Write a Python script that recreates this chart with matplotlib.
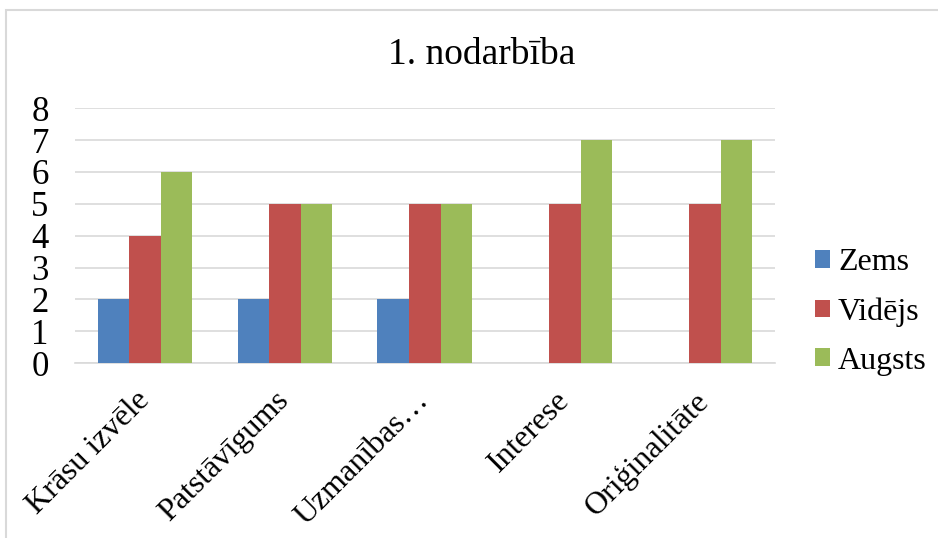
import numpy as np
import matplotlib.pyplot as plt
from matplotlib.patches import Rectangle

plt.rcParams['font.family'] = ['Liberation Serif', 'DejaVu Serif']

categories = ['Krāsu izvēle', 'Patstāvīgums', 'Uzmanības…', 'Interese', 'Oriģinalitāte']
series = ['Zems', 'Vidējs', 'Augsts']
zems = [2, 2, 2, 0, 0]
videjs = [4, 5, 5, 5, 5]
augsts = [6, 5, 5, 7, 7]
colors = ['#4F81BD', '#C0504D', '#9BBB59']

fig = plt.figure(figsize=(9.38, 5.38), dpi=100)
ax = fig.add_axes([0.08, 0.325, 0.746, 0.474])

x = np.arange(len(categories))
w = 0.226
for i, (vals, name) in enumerate(zip([zems, videjs, augsts], series)):
    ax.bar(x + (i - 1) * w, vals, w, color=colors[i], label=name, zorder=3)

ax.set_xlim(-0.5, len(categories) - 0.5)
ax.set_ylim(0, 8)
ax.set_yticks(range(0, 9))
ax.tick_params(axis='y', labelsize=25, length=0, pad=19)
ax.set_xticks(x)
ax.set_xticklabels(categories, rotation=45, ha='right', va='center',
                   rotation_mode='anchor', fontsize=23)
ax.tick_params(axis='x', length=0, pad=24)
ax.grid(axis='y', color='#D9D9D9', linewidth=1.2, zorder=0)
for s in ['top', 'right', 'left']:
    ax.spines[s].set_visible(False)
ax.spines['bottom'].set_color('#D9D9D9')
ax.spines['bottom'].set_linewidth(1.2)

# title centred on the whole chart, not on the plot area
fig.text(0.513, 0.898, '1. nodarbība', fontsize=27, ha='center', va='center')

fig.legend(*ax.get_legend_handles_labels(), loc='center left', bbox_to_anchor=(0.869, 0.42),
           frameon=False, fontsize=23, borderpad=0, borderaxespad=0,
           handlelength=0.47, handleheight=0.47, handletextpad=0.25, labelspacing=0.62)

fig.patches.append(Rectangle((0.006, -0.01), 1.1, 0.992, transform=fig.transFigure,
                             fill=False, edgecolor='#D9D9D9', linewidth=1.5))

fig.savefig('out.png', dpi=100)
